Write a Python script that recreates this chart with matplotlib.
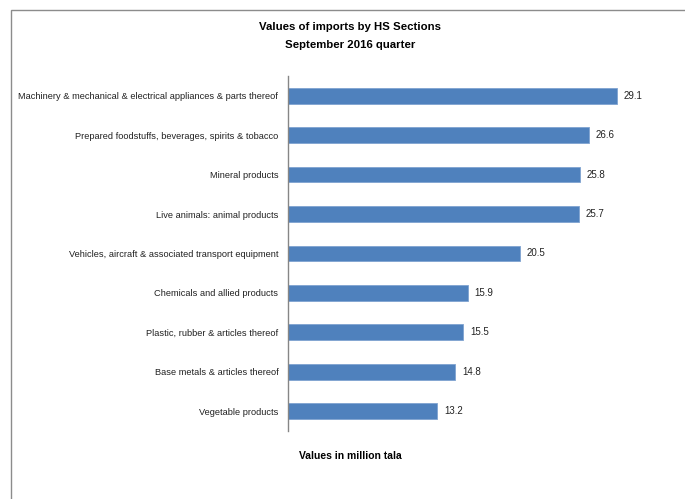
import matplotlib
matplotlib.use("Agg")
import matplotlib.pyplot as plt
from matplotlib.patches import Rectangle

categories = [
    "Machinery & mechanical & electrical appliances & parts thereof",
    "Prepared foodstuffs, beverages, spirits & tobacco",
    "Mineral products",
    "Live animals: animal products",
    "Vehicles, aircraft & associated transport equipment",
    "Chemicals and allied products",
    "Plastic, rubber & articles thereof",
    "Base metals & articles thereof",
    "Vegetable products",
]
values = [29.1, 26.6, 25.8, 25.7, 20.5, 15.9, 15.5, 14.8, 13.2]

plt.rcParams["font.family"] = ["Liberation Sans", "DejaVu Sans"]

fig = plt.figure(figsize=(6.85, 4.99), dpi=100)
ax = fig.add_axes([0.4204, 0.1363, 0.5285, 0.7114])

y = list(range(len(categories)))
ax.barh(y, values, height=0.4, color="#4F81BD", edgecolor="#7FA3D0", linewidth=0.6)
ax.set_ylim(len(categories) - 0.5, -0.5)
ax.set_xlim(0, 32)

for yi, v in zip(y, values):
    ax.text(v + 0.6, yi, f"{v:.1f}", va="center", ha="left", fontsize=7, color="#222222")

ax.set_yticks(y)
ax.set_yticklabels(categories, fontsize=6.7, color="#222222")
ax.tick_params(axis="y", length=0, pad=7)
ax.set_xticks([])
for s in ["top", "right", "bottom"]:
    ax.spines[s].set_visible(False)
ax.spines["left"].set_color("#868686")
ax.spines["left"].set_linewidth(1.0)

fig.text(0.511, 0.946, "Values of imports by HS Sections", ha="center", va="center",
         fontsize=8.2, fontweight="bold")
fig.text(0.511, 0.910, "September 2016 quarter", ha="center", va="center",
         fontsize=8.2, fontweight="bold")
fig.text(0.511, 0.086, "Values in million tala", ha="center", va="center",
         fontsize=7.5, fontweight="bold")

# outer chart border
fig.patches.append(Rectangle((11 / 685, -0.02), 1.0, 1 - 10 / 499 + 0.02,
                             transform=fig.transFigure, fill=False,
                             edgecolor="#8C8C8C", linewidth=1.0))

fig.savefig("out.png", dpi=100)
